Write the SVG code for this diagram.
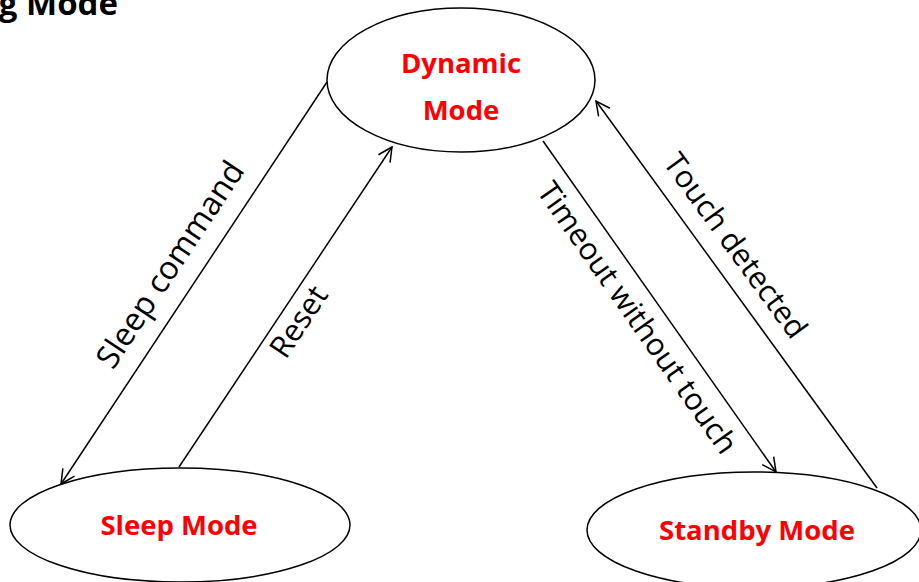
<svg xmlns="http://www.w3.org/2000/svg" width="919" height="582" viewBox="0 0 919 582">
  <style>
    .state { fill: #ffffff; stroke: #000000; stroke-width: 1.5; }
    .name { font-family: "Open Sans", "Noto Sans", sans-serif; font-weight: bold; font-size: 27.5px; fill: #ff0000; text-anchor: middle; }
    .edge { fill: none; stroke: #000000; stroke-width: 1.5; marker-end: url(#arrow); }
    .label { font-family: "Open Sans", "Noto Sans", sans-serif; font-size: 30.5px; fill: #000000; text-anchor: middle; }
    .title { font-family: "Open Sans", "Noto Sans", sans-serif; font-weight: bold; font-size: 33px; fill: #000000; text-anchor: end; }
  </style>
  <defs>
    <marker id="arrow" viewBox="0 0 16 16" refX="15" refY="8" markerWidth="16" markerHeight="16" markerUnits="userSpaceOnUse" orient="auto">
      <path d="M1,1 L15,8 L1,15" fill="none" stroke="#000000" stroke-width="1.5"/>
    </marker>
  </defs>
  <rect width="919" height="582" fill="#ffffff"/>

  <text class="title" x="118" y="15">g Mode</text>

  <g id="dynamic-mode">
    <ellipse class="state" cx="461" cy="80" rx="134" ry="72"/>
    <text class="name" x="461" y="73">Dynamic</text>
    <text class="name" x="461" y="120">Mode</text>
  </g>
  <g id="sleep-mode">
    <ellipse class="state" cx="180" cy="525" rx="170" ry="57"/>
    <text class="name" x="179" y="535">Sleep Mode</text>
  </g>
  <g id="standby-mode">
    <ellipse class="state" cx="754" cy="530" rx="167" ry="58"/>
    <text class="name" x="757" y="540">Standby Mode</text>
  </g>

  <g id="connectors">
    <line class="edge" x1="327" y1="82" x2="61" y2="484"/>
    <line class="edge" x1="179" y1="467" x2="392" y2="147"/>
    <line class="edge" x1="543" y1="141" x2="776" y2="472"/>
    <line class="edge" x1="877" y1="488" x2="596" y2="101"/>
    <text class="label" transform="translate(171,265) rotate(-56.5)" y="10" style="font-size:32px">Sleep command</text>
    <text class="label" transform="translate(299,322) rotate(-56.5)" y="10">Reset</text>
    <text class="label" transform="translate(637,318) rotate(55)" y="10">Timeout without touch</text>
    <text class="label" transform="translate(735,246) rotate(54)" y="10">Touch detected</text>
  </g>
</svg>
